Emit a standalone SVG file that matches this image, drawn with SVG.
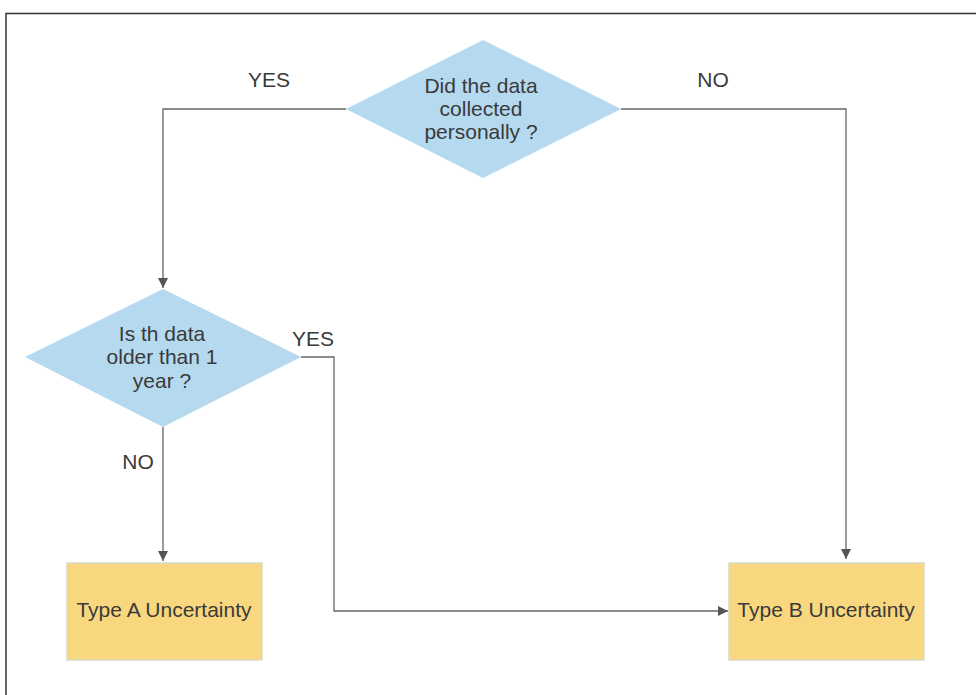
<svg xmlns="http://www.w3.org/2000/svg" width="976" height="695" viewBox="0 0 976 695">
<defs>
<marker id="arr" markerWidth="12" markerHeight="12" refX="10" refY="5" orient="auto" markerUnits="userSpaceOnUse">
<path d="M0,0 L10,5 L0,10 Z" fill="#555"/>
</marker>
<style>
.dia{fill:#b5d9ef;stroke:none}
.box{fill:#f8d77f;stroke:#d8dcc8;stroke-width:1.5}
.t{font-family:"Liberation Sans",Arial,sans-serif;font-size:21px;fill:#3a3a3a;text-anchor:middle}
.c{fill:none;stroke:#666;stroke-width:1.3}
</style>
</defs>
<rect width="976" height="695" fill="#fff"/>
<path d="M6,695 V13.5 H976" fill="none" stroke="#333" stroke-width="1.5"/>
<g id="connectors">
<path class="c" d="M346,109 H163 V288" marker-end="url(#arr)"/>
<path class="c" d="M621,109 H846 V559" marker-end="url(#arr)"/>
<path class="c" d="M163,427 V561" marker-end="url(#arr)"/>
<path class="c" d="M301,357 H334 V611 H728" marker-end="url(#arr)"/>
<text class="t" x="269" y="87">YES</text>
<text class="t" x="713" y="87">NO</text>
<text class="t" x="313" y="346">YES</text>
<text class="t" x="138" y="469">NO</text>
</g>
<g id="d1">
<polygon class="dia" points="483,40 621,109 483,178 346,109"/>
<text class="t" x="481" y="93">Did the data</text>
<text class="t" x="481" y="116">collected</text>
<text class="t" x="481" y="139">personally ?</text>
</g>
<g id="d2">
<polygon class="dia" points="163,289 301,357 163,427 25,357"/>
<text class="t" x="162" y="341">Is th data</text>
<text class="t" x="162" y="364">older than 1</text>
<text class="t" x="162" y="388">year ?</text>
</g>
<g id="a">
<rect class="box" x="67" y="563" width="195" height="97"/>
<text class="t" x="164" y="617">Type A Uncertainty</text>
</g>
<g id="b">
<rect class="box" x="729" y="563" width="195" height="97"/>
<text class="t" x="826" y="617">Type B Uncertainty</text>
</g>
</svg>
